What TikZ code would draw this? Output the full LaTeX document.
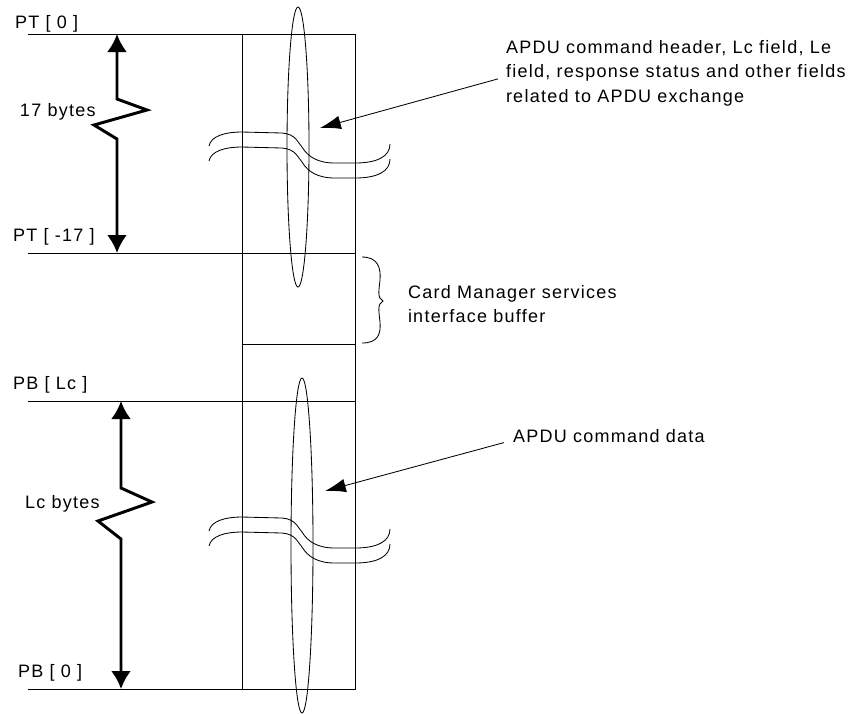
\documentclass[tikz,border=0pt]{standalone}
\usepackage{fontspec}
\setmainfont[LetterSpace=7]{Liberation Sans}
\usepackage{tikz}
\usetikzlibrary{arrows.meta,positioning,calc}

\begin{document}
\begin{tikzpicture}[every node/.style={outer sep=0pt,inner sep=0pt,
  font=\fontsize{12.8pt}{17.7pt}\selectfont},
  wall/.style={line width=0.6pt},
  span/.style={{Latex[length=0.45cm,width=0.5cm]}-{Latex[length=0.45cm,width=0.5cm]},line width=2.1pt},
  pointer/.style={-{Latex[length=0.52cm,width=0.34cm]},line width=0.6pt}]
\useasboundingbox (0cm,0cm) rectangle (21.2cm,-17.825cm);
% buffer column
\node (buf) [draw,wall,minimum width=2.825cm,minimum height=16.375cm] at (7.4625cm,-9.0375cm) {};
\coordinate (ptzero) at (0.7cm,-0.85cm);
\coordinate (ptlow) at (0.7cm,-6.325cm);
\coordinate (cmlow) at (6.05cm,-8.6cm);
\coordinate (pblc) at (0.7cm,-10.025cm);
\coordinate (pbzero) at (0.7cm,-17.225cm);
\draw [wall] (ptzero) -- (ptzero -| buf.east);
\draw [wall] (ptlow) -- (ptlow -| buf.east);
\draw [wall] (cmlow) -- (cmlow -| buf.east);
\draw [wall] (pblc) -- (pblc -| buf.east);
\draw [wall] (pbzero) -- (pbzero -| buf.east);
% fields
\draw [wall] (7.45cm,-3.675cm) ellipse (0.275cm and 3.5cm);
\draw [wall] (7.55cm,-13.6375cm) ellipse (0.275cm and 4.1875cm);
\foreach \dy in {0,-0.375,-9.625,-10}
  \draw [wall,yshift=\dy cm] (5.225cm,-3.65cm) .. controls (5.275cm,-3.4cm) and (5.625cm,-3.3cm) .. (6.05cm,-3.3cm)
    -- (7.05cm,-3.325cm) .. controls (7.4cm,-3.35cm) and (7.45cm,-3.575cm) .. (7.55cm,-3.675cm)
    .. controls (7.7cm,-3.925cm) and (7.95cm,-4.075cm) .. (8.375cm,-4.075cm)
    -- (8.875cm,-4.075cm) .. controls (9.45cm,-4.075cm) and (9.75cm,-3.9cm) .. (9.75cm,-3.6cm);
% sizes
\coordinate (upa) at (2.925cm,-0.85cm);
\coordinate (lowa) at (3.025cm,-10.025cm);
\draw [span] (upa) -- (2.925cm,-2.475cm) -- (3.675cm,-2.75cm) -- (2.35cm,-3.125cm)
  -- (2.925cm,-3.475cm) -- (upa |- ptlow);
\draw [span] (lowa) -- (3.025cm,-12.2cm) -- (3.8cm,-12.55cm) -- (2.45cm,-13.025cm)
  -- (3.025cm,-13.475cm) -- (lowa |- pbzero);
% labels
\draw (0.375cm,-0.7cm) node(ptzerolab)[anchor=base west]{PT [ 0 ]};
\draw (0.5cm,-2.9cm) node(hdrsize)[anchor=base west]{17 bytes};
\draw (0.325cm,-6.025cm) node(ptlowlab)[anchor=base west]{PT [ -17 ]};
\draw (0.325cm,-9.725cm) node(pblclab)[anchor=base west]{PB [ Lc ]};
\draw (0.625cm,-12.7cm) node(datasize)[anchor=base west]{Lc bytes};
\draw (0.45cm,-16.925cm) node(pbzerolab)[anchor=base west]{PB [ 0 ]};
\draw (10.2cm,-7.125cm) node(cmbuf)[anchor=north west,align=left]{Card Manager services\\interface buffer};
\draw (12.65cm,-1.0cm) node(hdr)[anchor=north west,align=left]{APDU command header, Lc field, Le\\field, response status and other fields\\related to APDU exchange};
\draw (12.825cm,-11.05cm) node(data)[anchor=base west]{APDU command data};
% brace
\draw [wall] (9.05cm,-6.425cm) .. controls (9.45cm,-6.425cm) and (9.525cm,-6.7cm) .. (9.5cm,-7.0cm)
  .. controls (9.475cm,-7.25cm) and (9.425cm,-7.45cm) .. (9.575cm,-7.525cm)
  .. controls (9.425cm,-7.6cm) and (9.475cm,-7.8cm) .. (9.5cm,-8.05cm)
  .. controls (9.525cm,-8.35cm) and (9.45cm,-8.575cm) .. (9.05cm,-8.575cm);
% pointers
\coordinate (hdrtip) at (8.0cm,-3.2cm);
\coordinate (datatip) at (8.125cm,-12.275cm);
\draw [pointer] ([xshift=-0.2cm,yshift=-0.14cm]hdr.west) -- (hdrtip);
\draw [pointer] ([xshift=-0.225cm,yshift=-0.175cm]data.west) -- (datatip);
\end{tikzpicture}
\end{document}
